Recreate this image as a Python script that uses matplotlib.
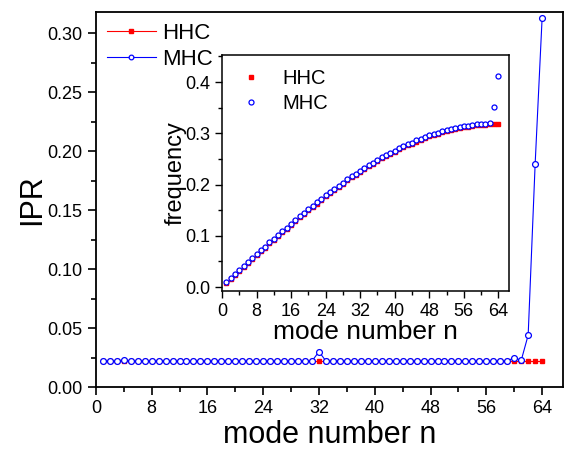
import matplotlib
matplotlib.use("Agg")
import matplotlib.pyplot as plt
from matplotlib.ticker import MultipleLocator

plt.rcParams['font.family'] = ['Liberation Sans', 'DejaVu Sans']

# mode numbers
n = list(range(1, 65))

# IPR (main plot)
ipr_hhc = [0.022, 0.022, 0.022, 0.022, 0.022, 0.022, 0.022, 0.022, 0.022, 0.022, 0.022, 0.022, 0.022, 0.022, 0.022, 0.022,
           0.022, 0.022, 0.022, 0.022, 0.022, 0.022, 0.022, 0.022, 0.022, 0.022, 0.022, 0.022, 0.022, 0.022, 0.022, 0.022,
           0.022, 0.022, 0.022, 0.022, 0.022, 0.022, 0.022, 0.022, 0.022, 0.022, 0.022, 0.022, 0.022, 0.022, 0.022, 0.022,
           0.022, 0.022, 0.022, 0.022, 0.022, 0.022, 0.022, 0.022, 0.022, 0.022, 0.022, 0.022, 0.022, 0.022, 0.022, 0.022]
ipr_mhc = [0.022, 0.022, 0.022, 0.023, 0.022, 0.022, 0.022, 0.022, 0.022, 0.022, 0.022, 0.022, 0.022, 0.022, 0.022, 0.022,
           0.022, 0.022, 0.022, 0.022, 0.022, 0.022, 0.022, 0.022, 0.022, 0.022, 0.022, 0.022, 0.022, 0.022, 0.022, 0.030,
           0.022, 0.022, 0.022, 0.022, 0.022, 0.022, 0.022, 0.022, 0.022, 0.022, 0.022, 0.022, 0.022, 0.022, 0.022, 0.022,
           0.022, 0.022, 0.022, 0.022, 0.022, 0.022, 0.022, 0.022, 0.022, 0.022, 0.022, 0.025, 0.0225, 0.044, 0.189, 0.313]

# frequency (inset)
freq_hhc = [0.008, 0.016, 0.023, 0.031, 0.039, 0.047, 0.054, 0.062, 0.070, 0.077,
            0.085, 0.092, 0.100, 0.107, 0.114, 0.122, 0.129, 0.136, 0.143, 0.150,
            0.157, 0.163, 0.170, 0.177, 0.183, 0.189, 0.196, 0.202, 0.208, 0.214,
            0.219, 0.225, 0.230, 0.236, 0.241, 0.246, 0.251, 0.255, 0.260, 0.264,
            0.269, 0.273, 0.277, 0.280, 0.284, 0.287, 0.291, 0.294, 0.297, 0.299,
            0.302, 0.304, 0.306, 0.308, 0.310, 0.312, 0.313, 0.315, 0.316, 0.316,
            0.317, 0.318, 0.318, 0.318]
freq_mhc = [0.010, 0.018, 0.025, 0.033, 0.041, 0.049, 0.056, 0.064, 0.072, 0.079,
            0.087, 0.094, 0.102, 0.109, 0.116, 0.124, 0.131, 0.138, 0.145, 0.152,
            0.159, 0.165, 0.172, 0.179, 0.185, 0.191, 0.198, 0.204, 0.210, 0.216,
            0.221, 0.227, 0.232, 0.238, 0.243, 0.248, 0.253, 0.257, 0.262, 0.266,
            0.271, 0.275, 0.279, 0.282, 0.286, 0.289, 0.293, 0.296, 0.299, 0.301,
            0.304, 0.306, 0.308, 0.310, 0.312, 0.314, 0.315, 0.317, 0.318, 0.318,
            0.319, 0.320, 0.351, 0.412]

fig = plt.figure(figsize=(5.67, 4.5), dpi=100)

# main axes
ax = fig.add_axes([0.169, 0.14, 0.824, 0.833])
ax.plot(n, ipr_hhc, color='red', lw=0.8, marker='s', ms=3.4, mec='red', mfc='red', label='HHC')
ax.plot(n, ipr_mhc, color='blue', lw=0.8, marker='o', ms=4.2, mec='blue', mfc='white', mew=0.9, label='MHC')
ax.set_xlim(0, 67)
ax.set_ylim(0, 0.318)
ax.xaxis.set_major_locator(MultipleLocator(8))
ax.xaxis.set_minor_locator(MultipleLocator(4))
ax.yaxis.set_major_locator(MultipleLocator(0.05))
ax.yaxis.set_minor_locator(MultipleLocator(0.025))
ax.yaxis.set_major_formatter(matplotlib.ticker.FormatStrFormatter('%.2f'))
ax.tick_params(which='major', direction='out', length=6, width=1.2, labelsize=13)
ax.tick_params(which='minor', direction='out', length=3.5, width=1.2)
for s in ax.spines.values():
    s.set_linewidth(1.3)
ax.set_xlabel('mode number n', fontsize=22, labelpad=2)
ax.set_ylabel('IPR', fontsize=22, labelpad=0)
ax.legend(loc='upper left', fontsize=16, frameon=False, handlelength=2.2, markerscale=0.8,
          handletextpad=0.3, borderaxespad=0.3, labelspacing=0.2, borderpad=0.2)

# inset axes
ins = fig.add_axes([0.3915, 0.353, 0.5065, 0.525])
ins.plot(n, freq_hhc, ls='none', marker='s', ms=3.3, mec='red', mfc='red', label='HHC')
ins.plot(n, freq_mhc, ls='none', marker='o', ms=3.6, mec='blue', mfc='white', mew=0.9, label='MHC')
ins.set_xlim(0, 66.5)
ins.set_ylim(-0.008, 0.453)
ins.xaxis.set_major_locator(MultipleLocator(8))
ins.xaxis.set_minor_locator(MultipleLocator(4))
ins.yaxis.set_major_locator(MultipleLocator(0.1))
ins.yaxis.set_minor_locator(MultipleLocator(0.05))
ins.yaxis.set_major_formatter(matplotlib.ticker.FormatStrFormatter('%.1f'))
ins.tick_params(which='major', direction='out', length=5, width=1.0, labelsize=13)
ins.tick_params(which='minor', direction='out', length=3, width=1.0)
for s in ins.spines.values():
    s.set_linewidth(1.1)
ins.set_xlabel('mode number n', fontsize=19, labelpad=0)
ins.set_ylabel('frequency', fontsize=17, labelpad=-1)
ins.legend(loc='upper left', fontsize=14.5, frameon=False, handlelength=1.5,
           handletextpad=0.8, borderaxespad=0.3, labelspacing=0.3)

fig.savefig('out.png', dpi=100)
